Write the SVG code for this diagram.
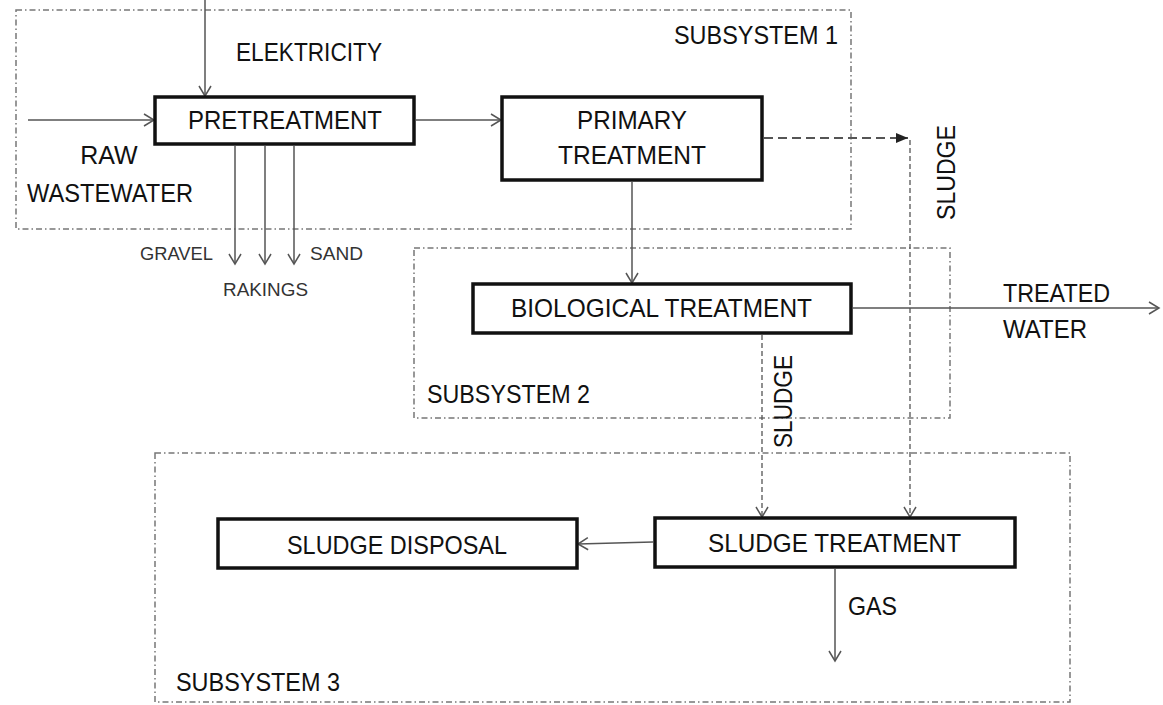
<svg xmlns="http://www.w3.org/2000/svg" width="1163" height="705" viewBox="0 0 1163 705">
<style>
text{font-family:"Liberation Sans","Open Sans",sans-serif;fill:#111;font-size:25px}
.sm{font-size:18px;fill:#333}
.mid{text-anchor:middle}
.box{fill:#fff;stroke:#111;stroke-width:3.5}
.sub{fill:none;stroke:#777;stroke-width:1.5;stroke-dasharray:6 3 1.5 3}
.ln{fill:none;stroke:#555;stroke-width:1.5}
.dl{fill:none;stroke:#555;stroke-width:1.3;stroke-dasharray:5 3}
.dh{fill:none;stroke:#555;stroke-width:2;stroke-dasharray:9 5}
</style>
<defs>
<marker id="open" markerUnits="userSpaceOnUse" markerWidth="14" markerHeight="14" refX="12" refY="7" orient="auto">
<path d="M2,1 L12,7 L2,13" fill="none" stroke="#555" stroke-width="1.5"/>
</marker>
<marker id="fill" markerUnits="userSpaceOnUse" markerWidth="14" markerHeight="12" refX="12" refY="6" orient="auto">
<path d="M0,1 L12,6 L0,11 Z" fill="#222"/>
</marker>
</defs>

<g id="subsystems">
<rect class="sub" x="16" y="10" width="835" height="219"/>
<rect class="sub" x="414" y="248" width="536" height="170"/>
<rect class="sub" x="155" y="453" width="915" height="249"/>
<text x="674" y="44" textLength="164" lengthAdjust="spacingAndGlyphs">SUBSYSTEM 1</text>
<text x="427" y="403" textLength="163" lengthAdjust="spacingAndGlyphs">SUBSYSTEM 2</text>
<text x="176" y="691" textLength="164" lengthAdjust="spacingAndGlyphs">SUBSYSTEM 3</text>
</g>

<g id="connectors">
<line class="ln" x1="205" y1="0" x2="205" y2="96" marker-end="url(#open)"/>
<line class="ln" x1="28" y1="120" x2="154" y2="120" marker-end="url(#open)"/>
<line class="ln" x1="235" y1="146" x2="235" y2="264" marker-end="url(#open)"/>
<line class="ln" x1="265" y1="146" x2="265" y2="264" marker-end="url(#open)"/>
<line class="ln" x1="294" y1="146" x2="294" y2="264" marker-end="url(#open)"/>
<line class="ln" x1="416" y1="120" x2="501" y2="120" marker-end="url(#open)"/>
<line class="ln" x1="632" y1="182" x2="632" y2="283" marker-end="url(#open)"/>
<line class="ln" x1="853" y1="308" x2="1159" y2="308" marker-end="url(#open)"/>
<line class="dh" x1="764" y1="138" x2="908" y2="138" marker-end="url(#fill)"/>
<line class="dl" x1="910" y1="140" x2="910" y2="517" marker-end="url(#open)"/>
<line class="dl" x1="762" y1="335" x2="762" y2="517" marker-end="url(#open)"/>
<line class="ln" x1="653" y1="542" x2="578" y2="544" marker-end="url(#open)"/>
<line class="ln" x1="835" y1="569" x2="835" y2="661" marker-end="url(#open)"/>
</g>

<g id="labels">
<text x="236" y="61" textLength="146" lengthAdjust="spacingAndGlyphs">ELEKTRICITY</text>
<text x="109" y="164" class="mid">RAW</text>
<text x="27" y="202" textLength="166" lengthAdjust="spacingAndGlyphs">WASTEWATER</text>
<text x="140" y="260" class="sm" textLength="73" lengthAdjust="spacingAndGlyphs">GRAVEL</text>
<text x="310" y="260" class="sm" textLength="53" lengthAdjust="spacingAndGlyphs">SAND</text>
<text x="223" y="296" class="sm" textLength="85" lengthAdjust="spacingAndGlyphs">RAKINGS</text>
<text x="1003" y="302" textLength="107" lengthAdjust="spacingAndGlyphs">TREATED</text>
<text x="1003" y="338" textLength="84" lengthAdjust="spacingAndGlyphs">WATER</text>
<text transform="translate(955,220) rotate(-90)" textLength="95" lengthAdjust="spacingAndGlyphs">SLUDGE</text>
<text transform="translate(792,448) rotate(-90)" textLength="93" lengthAdjust="spacingAndGlyphs">SLUDGE</text>
<text x="848" y="615" textLength="49" lengthAdjust="spacingAndGlyphs">GAS</text>
</g>

<g id="pretreatment">
<rect class="box" x="155" y="97" width="259" height="47"/>
<text x="188" y="129" textLength="194" lengthAdjust="spacingAndGlyphs">PRETREATMENT</text>
</g>
<g id="primary-treatment">
<rect class="box" x="502" y="97" width="260" height="83"/>
<text x="577" y="129" textLength="110" lengthAdjust="spacingAndGlyphs">PRIMARY</text>
<text x="558" y="164" textLength="148" lengthAdjust="spacingAndGlyphs">TREATMENT</text>
</g>
<g id="biological-treatment">
<rect class="box" x="473" y="284" width="378" height="49"/>
<text x="511" y="317" textLength="301" lengthAdjust="spacingAndGlyphs">BIOLOGICAL TREATMENT</text>
</g>
<g id="sludge-treatment">
<rect class="box" x="655" y="518" width="360" height="49"/>
<text x="708" y="552" textLength="253" lengthAdjust="spacingAndGlyphs">SLUDGE TREATMENT</text>
</g>
<g id="sludge-disposal">
<rect class="box" x="218" y="519" width="359" height="49"/>
<text x="287" y="554" textLength="220" lengthAdjust="spacingAndGlyphs">SLUDGE DISPOSAL</text>
</g>
</svg>
